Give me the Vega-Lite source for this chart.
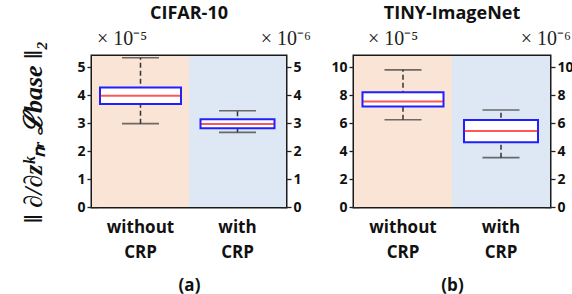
{
  "$schema": "https://vega.github.io/schema/vega-lite/v6.json",
  "padding": {"left": 19, "top": 3, "right": 2, "bottom": 0},
  "config": {
    "font": "Open Sans",
    "view": {"stroke": "#1a1a1a", "strokeWidth": 3},
    "axis": {"labelFont": "Open Sans", "labelFontWeight": "bold", "labelFontSize": 14, "labelColor": "#111", "tickColor": "#222", "tickWidth": 1.3, "grid": false, "domain": false, "zindex": 1, "labelOverlap": false, "labelBound": false},
    "title": {"font": "Open Sans", "fontSize": 18, "fontWeight": "bold", "color": "#111"}
  },
  "datasets": {
    "cifar": [
      {"method": "without CRP", "lower": 2.98, "q1": 3.68, "median": 3.98, "q3": 4.27, "upper": 5.34},
      {"method": "with CRP", "lower": 2.67, "q1": 2.82, "median": 2.97, "q3": 3.14, "upper": 3.44}
    ],
    "tiny": [
      {"method": "without CRP", "lower": 6.24, "q1": 7.19, "median": 7.55, "q3": 8.21, "upper": 9.81},
      {"method": "with CRP", "lower": 3.53, "q1": 4.63, "median": 5.44, "q3": 6.23, "upper": 6.94}
    ]
  },
  "spacing": 16,
  "hconcat": [
    {
      "title": {"text": "CIFAR-10", "offset": 6},
      "width": 194,
      "height": 151,
      "data": {"name": "cifar"},
      "encoding": {
        "x": {"field": "method", "type": "nominal", "title": "(a)",
          "scale": {"domain": ["without CRP", "with CRP"], "paddingInner": 0, "paddingOuter": 0},
          "axis": {"labelExpr": "split(datum.label, ' ')", "labelAngle": 0, "labelFontSize": 17, "labelLineHeight": 25, "tickSize": 6, "offset": -6, "labelPadding": 12, "titleFont": "Open Sans", "titleFontSize": 17, "titleFontWeight": "bold", "titleColor": "#111", "titlePadding": 17}}
      },
      "layer": [
        {"mark": {"type": "rect"},
         "encoding": {"color": {"field": "method", "type": "nominal", "scale": {"domain": ["without CRP", "with CRP"], "range": ["#fae4d5", "#dde8f4"]}, "legend": null}}},
        {
          "transform": [{"filter": "datum.method == 'without CRP'"}],
          "layer": [
            {"mark": {"type": "rule", "color": "#333", "strokeWidth": 1.5, "strokeDash": [5, 3]},
             "encoding": {
               "y": {"field": "lower", "type": "quantitative", "title": "‖ ∂/∂zᵏₙᵣ ℒbase ‖₂", "scale": {"domain": [0, 5.4], "nice": false, "zero": false}, "axis": {"orient": "left", "values": [0, 1, 2, 3, 4, 5], "tickCount": 6, "tickSize": 10, "offset": -5, "labelPadding": 2, "titleFont": "Liberation Serif", "titleFontStyle": "italic", "titleFontWeight": "bold", "titleFontSize": 26, "titlePadding": 30, "titleColor": "#111"}},
               "y2": {"field": "upper"}}},
            {"mark": {"type": "tick", "color": "#333", "thickness": 1.6, "size": 37},
             "encoding": {"y": {"field": "lower", "type": "quantitative", "title": "‖ ∂/∂zᵏₙᵣ ℒbase ‖₂", "scale": {"domain": [0, 5.4], "nice": false, "zero": false}, "axis": {"orient": "left", "values": [0, 1, 2, 3, 4, 5], "tickCount": 6, "tickSize": 10, "offset": -5, "labelPadding": 2, "titleFont": "Liberation Serif", "titleFontStyle": "italic", "titleFontWeight": "bold", "titleFontSize": 26, "titlePadding": 30, "titleColor": "#111"}}}},
            {"mark": {"type": "tick", "color": "#333", "thickness": 1.6, "size": 37},
             "encoding": {"y": {"field": "upper", "type": "quantitative", "title": "‖ ∂/∂zᵏₙᵣ ℒbase ‖₂", "scale": {"domain": [0, 5.4], "nice": false, "zero": false}, "axis": {"orient": "left", "values": [0, 1, 2, 3, 4, 5], "tickCount": 6, "tickSize": 10, "offset": -5, "labelPadding": 2, "titleFont": "Liberation Serif", "titleFontStyle": "italic", "titleFontWeight": "bold", "titleFontSize": 26, "titlePadding": 30, "titleColor": "#111"}}}},
            {"mark": {"type": "bar", "fill": "white", "stroke": "#1f1fff", "strokeWidth": 2, "size": 81},
             "encoding": {"y": {"field": "q1", "type": "quantitative", "title": "‖ ∂/∂zᵏₙᵣ ℒbase ‖₂", "scale": {"domain": [0, 5.4], "nice": false, "zero": false}, "axis": {"orient": "left", "values": [0, 1, 2, 3, 4, 5], "tickCount": 6, "tickSize": 10, "offset": -5, "labelPadding": 2, "titleFont": "Liberation Serif", "titleFontStyle": "italic", "titleFontWeight": "bold", "titleFontSize": 26, "titlePadding": 30, "titleColor": "#111"}}, "y2": {"field": "q3"}}},
            {"mark": {"type": "tick", "color": "#ff1010", "thickness": 2, "size": 80},
             "encoding": {"y": {"field": "median", "type": "quantitative", "title": "‖ ∂/∂zᵏₙᵣ ℒbase ‖₂", "scale": {"domain": [0, 5.4], "nice": false, "zero": false}, "axis": {"orient": "left", "values": [0, 1, 2, 3, 4, 5], "tickCount": 6, "tickSize": 10, "offset": -5, "labelPadding": 2, "titleFont": "Liberation Serif", "titleFontStyle": "italic", "titleFontWeight": "bold", "titleFontSize": 26, "titlePadding": 30, "titleColor": "#111"}}}},
            {"mark": {"type": "text", "text": "× 10⁻⁵", "align": "left", "baseline": "alphabetic", "dx": -43.5, "dy": -11, "font": "Liberation Serif", "fontSize": 20, "color": "#222"},
             "encoding": {"y": {"datum": 5.4, "type": "quantitative", "title": "‖ ∂/∂zᵏₙᵣ ℒbase ‖₂", "scale": {"domain": [0, 5.4], "nice": false, "zero": false}, "axis": {"orient": "left", "values": [0, 1, 2, 3, 4, 5], "tickCount": 6, "tickSize": 10, "offset": -5, "labelPadding": 2, "titleFont": "Liberation Serif", "titleFontStyle": "italic", "titleFontWeight": "bold", "titleFontSize": 26, "titlePadding": 30, "titleColor": "#111"}}}}
          ]
        },
        {
          "transform": [{"filter": "datum.method == 'with CRP'"}],
          "layer": [
            {"mark": {"type": "rule", "color": "#333", "strokeWidth": 1.5, "strokeDash": [5, 3]},
             "encoding": {
               "y": {"field": "lower", "type": "quantitative", "title": null, "scale": {"domain": [0, 5.4], "nice": false, "zero": false}, "axis": {"orient": "right", "values": [0, 1, 2, 3, 4, 5], "tickCount": 6, "tickSize": 10, "offset": -5, "labelPadding": 2}},
               "y2": {"field": "upper"}}},
            {"mark": {"type": "tick", "color": "#333", "thickness": 1.6, "size": 37},
             "encoding": {"y": {"field": "lower", "type": "quantitative", "title": null, "scale": {"domain": [0, 5.4], "nice": false, "zero": false}, "axis": {"orient": "right", "values": [0, 1, 2, 3, 4, 5], "tickCount": 6, "tickSize": 10, "offset": -5, "labelPadding": 2}}}},
            {"mark": {"type": "tick", "color": "#333", "thickness": 1.6, "size": 37},
             "encoding": {"y": {"field": "upper", "type": "quantitative", "title": null, "scale": {"domain": [0, 5.4], "nice": false, "zero": false}, "axis": {"orient": "right", "values": [0, 1, 2, 3, 4, 5], "tickCount": 6, "tickSize": 10, "offset": -5, "labelPadding": 2}}}},
            {"mark": {"type": "bar", "fill": "white", "stroke": "#1f1fff", "strokeWidth": 2, "size": 74},
             "encoding": {"y": {"field": "q1", "type": "quantitative", "title": null, "scale": {"domain": [0, 5.4], "nice": false, "zero": false}, "axis": {"orient": "right", "values": [0, 1, 2, 3, 4, 5], "tickCount": 6, "tickSize": 10, "offset": -5, "labelPadding": 2}}, "y2": {"field": "q3"}}},
            {"mark": {"type": "tick", "color": "#ff1010", "thickness": 2, "size": 73},
             "encoding": {"y": {"field": "median", "type": "quantitative", "title": null, "scale": {"domain": [0, 5.4], "nice": false, "zero": false}, "axis": {"orient": "right", "values": [0, 1, 2, 3, 4, 5], "tickCount": 6, "tickSize": 10, "offset": -5, "labelPadding": 2}}}},
            {"mark": {"type": "text", "text": "× 10⁻⁶", "align": "right", "baseline": "alphabetic", "dx": 73.5, "dy": -11, "font": "Liberation Serif", "fontSize": 20, "color": "#222"},
             "encoding": {"y": {"datum": 5.4, "type": "quantitative", "title": null, "scale": {"domain": [0, 5.4], "nice": false, "zero": false}, "axis": {"orient": "right", "values": [0, 1, 2, 3, 4, 5], "tickCount": 6, "tickSize": 10, "offset": -5, "labelPadding": 2}}}}
          ]
        }
      ],
      "resolve": {"scale": {"y": "independent"}}
    },
    {
      "title": {"text": "TINY-ImageNet", "offset": 6},
      "width": 196,
      "height": 151,
      "data": {"name": "tiny"},
      "encoding": {
        "x": {"field": "method", "type": "nominal", "title": "(b)",
          "scale": {"domain": ["without CRP", "with CRP"], "paddingInner": 0, "paddingOuter": 0},
          "axis": {"labelExpr": "split(datum.label, ' ')", "labelAngle": 0, "labelFontSize": 17, "labelLineHeight": 25, "tickSize": 6, "offset": -6, "labelPadding": 12, "titleFont": "Open Sans", "titleFontSize": 17, "titleFontWeight": "bold", "titleColor": "#111", "titlePadding": 17}}
      },
      "layer": [
        {"mark": {"type": "rect"},
         "encoding": {"color": {"field": "method", "type": "nominal", "scale": {"domain": ["without CRP", "with CRP"], "range": ["#fae4d5", "#dde8f4"]}, "legend": null}}},
        {
          "transform": [{"filter": "datum.method == 'without CRP'"}],
          "layer": [
            {"mark": {"type": "rule", "color": "#333", "strokeWidth": 1.5, "strokeDash": [5, 3]},
             "encoding": {
               "y": {"field": "lower", "type": "quantitative", "title": null, "scale": {"domain": [0, 10.8], "nice": false, "zero": false}, "axis": {"orient": "left", "values": [0, 2, 4, 6, 8, 10], "tickCount": 6, "tickSize": 10, "offset": -5, "labelPadding": 2}},
               "y2": {"field": "upper"}}},
            {"mark": {"type": "tick", "color": "#333", "thickness": 1.6, "size": 37},
             "encoding": {"y": {"field": "lower", "type": "quantitative", "title": null, "scale": {"domain": [0, 10.8], "nice": false, "zero": false}, "axis": {"orient": "left", "values": [0, 2, 4, 6, 8, 10], "tickCount": 6, "tickSize": 10, "offset": -5, "labelPadding": 2}}}},
            {"mark": {"type": "tick", "color": "#333", "thickness": 1.6, "size": 37},
             "encoding": {"y": {"field": "upper", "type": "quantitative", "title": null, "scale": {"domain": [0, 10.8], "nice": false, "zero": false}, "axis": {"orient": "left", "values": [0, 2, 4, 6, 8, 10], "tickCount": 6, "tickSize": 10, "offset": -5, "labelPadding": 2}}}},
            {"mark": {"type": "bar", "fill": "white", "stroke": "#1f1fff", "strokeWidth": 2, "size": 81},
             "encoding": {"y": {"field": "q1", "type": "quantitative", "title": null, "scale": {"domain": [0, 10.8], "nice": false, "zero": false}, "axis": {"orient": "left", "values": [0, 2, 4, 6, 8, 10], "tickCount": 6, "tickSize": 10, "offset": -5, "labelPadding": 2}}, "y2": {"field": "q3"}}},
            {"mark": {"type": "tick", "color": "#ff1010", "thickness": 2, "size": 80},
             "encoding": {"y": {"field": "median", "type": "quantitative", "title": null, "scale": {"domain": [0, 10.8], "nice": false, "zero": false}, "axis": {"orient": "left", "values": [0, 2, 4, 6, 8, 10], "tickCount": 6, "tickSize": 10, "offset": -5, "labelPadding": 2}}}},
            {"mark": {"type": "text", "text": "× 10⁻⁵", "align": "left", "baseline": "alphabetic", "dx": -35, "dy": -11, "font": "Liberation Serif", "fontSize": 20, "color": "#222"},
             "encoding": {"y": {"datum": 10.8, "type": "quantitative", "title": null, "scale": {"domain": [0, 10.8], "nice": false, "zero": false}, "axis": {"orient": "left", "values": [0, 2, 4, 6, 8, 10], "tickCount": 6, "tickSize": 10, "offset": -5, "labelPadding": 2}}}}
          ]
        },
        {
          "transform": [{"filter": "datum.method == 'with CRP'"}],
          "layer": [
            {"mark": {"type": "rule", "color": "#333", "strokeWidth": 1.5, "strokeDash": [5, 3]},
             "encoding": {
               "y": {"field": "lower", "type": "quantitative", "title": null, "scale": {"domain": [0, 10.8], "nice": false, "zero": false}, "axis": {"orient": "right", "values": [0, 2, 4, 6, 8, 10], "tickCount": 6, "tickSize": 10, "offset": -5, "labelPadding": 2}},
               "y2": {"field": "upper"}}},
            {"mark": {"type": "tick", "color": "#333", "thickness": 1.6, "size": 37},
             "encoding": {"y": {"field": "lower", "type": "quantitative", "title": null, "scale": {"domain": [0, 10.8], "nice": false, "zero": false}, "axis": {"orient": "right", "values": [0, 2, 4, 6, 8, 10], "tickCount": 6, "tickSize": 10, "offset": -5, "labelPadding": 2}}}},
            {"mark": {"type": "tick", "color": "#333", "thickness": 1.6, "size": 37},
             "encoding": {"y": {"field": "upper", "type": "quantitative", "title": null, "scale": {"domain": [0, 10.8], "nice": false, "zero": false}, "axis": {"orient": "right", "values": [0, 2, 4, 6, 8, 10], "tickCount": 6, "tickSize": 10, "offset": -5, "labelPadding": 2}}}},
            {"mark": {"type": "bar", "fill": "white", "stroke": "#1f1fff", "strokeWidth": 2, "size": 74},
             "encoding": {"y": {"field": "q1", "type": "quantitative", "title": null, "scale": {"domain": [0, 10.8], "nice": false, "zero": false}, "axis": {"orient": "right", "values": [0, 2, 4, 6, 8, 10], "tickCount": 6, "tickSize": 10, "offset": -5, "labelPadding": 2}}, "y2": {"field": "q3"}}},
            {"mark": {"type": "tick", "color": "#ff1010", "thickness": 2, "size": 73},
             "encoding": {"y": {"field": "median", "type": "quantitative", "title": null, "scale": {"domain": [0, 10.8], "nice": false, "zero": false}, "axis": {"orient": "right", "values": [0, 2, 4, 6, 8, 10], "tickCount": 6, "tickSize": 10, "offset": -5, "labelPadding": 2}}}},
            {"mark": {"type": "text", "text": "× 10⁻⁶", "align": "right", "baseline": "alphabetic", "dx": 70, "dy": -11, "font": "Liberation Serif", "fontSize": 20, "color": "#222"},
             "encoding": {"y": {"datum": 10.8, "type": "quantitative", "title": null, "scale": {"domain": [0, 10.8], "nice": false, "zero": false}, "axis": {"orient": "right", "values": [0, 2, 4, 6, 8, 10], "tickCount": 6, "tickSize": 10, "offset": -5, "labelPadding": 2}}}}
          ]
        }
      ],
      "resolve": {"scale": {"y": "independent"}}
    }
  ]
}
